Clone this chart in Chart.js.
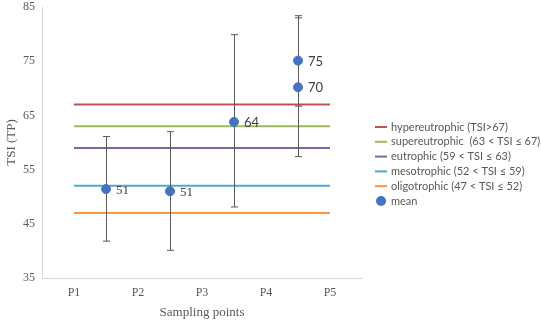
<!DOCTYPE html>
<html>
<head>
<meta charset="utf-8">
<script src="https://cdn.jsdelivr.net/npm/chart.js@4/dist/chart.umd.min.js"></script>
<style>
  html, body { margin: 0; padding: 0; background: #fff; }
  #wrap { width: 541px; height: 324px; position: relative; }
</style>
</head>
<body>
<div id="wrap"><canvas id="c" width="541" height="324"></canvas></div>
<script>
// --- data ---
const categories = ["P1", "P2", "P3", "P4", "P5"];
const yTicks = [35, 45, 55, 65, 75, 85];

const classNames = [
  "hypereutrophic (TSI>67)",
  "supereutrophic  (63 < TSI \u2264 67)",
  "eutrophic (59 < TSI \u2264 63)",
  "mesotrophic (52 < TSI \u2264 59)",
  "oligotrophic (47 < TSI \u2264 52)"
];
const classLevels = [67, 63, 59, 52, 47];
const classColors = ["#C0504D", "#9BBB59", "#8064A2", "#4BACC6", "#F79646"];

const meanX = [1.5, 2.5, 3.5, 4.5, 4.5];
const meanY = [51.4, 51.0, 63.8, 75.1, 70.2];
const errLow = [41.8, 40.1, 48.1, 66.7, 57.4];
const errHigh = [61.1, 62.0, 79.9, 83.4, 83.0];
const labelSerif = [true, true, false, false, false];

const GRAY = "#595959";
const SERIF = "'Liberation Serif', 'Times New Roman', serif";
const SANS = "Lato, 'Noto Sans', sans-serif";

// --- datasets ---
const datasets = classNames.map((name, i) => ({
  type: "line",
  label: name,
  data: [{ x: 1, y: classLevels[i] }, { x: 5, y: classLevels[i] }],
  borderColor: classColors[i],
  borderWidth: 2,
  pointRadius: 0,
  order: 1
}));
datasets.push({
  type: "scatter",
  label: "mean",
  data: meanX.map((x, i) => ({ x, y: meanY[i] })),
  backgroundColor: "#4472C4",
  borderColor: "#4472C4",
  pointRadius: 4.5,
  order: 0
});
const MEAN = datasets.length - 1;

// error bars under the mean markers
const errorBars = {
  id: "errorBars",
  beforeDatasetDraw(chart, args) {
    if (args.index !== MEAN) return;
    const { ctx, scales: { x, y } } = chart;
    ctx.save();
    ctx.strokeStyle = GRAY;
    ctx.lineWidth = 1;
    meanX.forEach((v, i) => {
      const px = Math.round(x.getPixelForValue(v)) + 0.5;
      const y1 = y.getPixelForValue(errHigh[i]);
      const y2 = y.getPixelForValue(errLow[i]);
      ctx.beginPath();
      ctx.moveTo(px, y1); ctx.lineTo(px, y2);
      ctx.moveTo(px - 3.5, y1); ctx.lineTo(px + 3.5, y1);
      ctx.moveTo(px - 3.5, y2); ctx.lineTo(px + 3.5, y2);
      ctx.stroke();
    });
    ctx.restore();
  }
};

// value labels and legend
const extras = {
  id: "extras",
  afterDraw(chart) {
    const { ctx, scales: { x, y } } = chart;
    ctx.save();
    ctx.fillStyle = "#404040";
    ctx.textBaseline = "middle";
    ctx.textAlign = "left";
    meanX.forEach((v, i) => {
      ctx.font = "13px " + (labelSerif[i] ? SERIF : SANS);
      ctx.fillText(String(Math.round(meanY[i])), x.getPixelForValue(v) + 10, y.getPixelForValue(meanY[i]) + 1);
    });

    // legend
    const lx = 375, ly = 127, step = 14.8;
    ctx.font = "11px " + SANS;
    ctx.fillStyle = GRAY;
    classNames.forEach((name, i) => {
      const yy = ly + i * step;
      ctx.strokeStyle = classColors[i];
      ctx.lineWidth = 2;
      ctx.beginPath();
      ctx.moveTo(lx, yy); ctx.lineTo(lx + 12, yy);
      ctx.stroke();
      ctx.fillText(name, lx + 16, yy);
    });
    const my = ly + classNames.length * step;
    ctx.fillStyle = "#4472C4";
    ctx.beginPath();
    ctx.arc(lx + 6, my, 5, 0, Math.PI * 2);
    ctx.fill();
    ctx.fillStyle = GRAY;
    ctx.fillText("mean", lx + 16, my);
    ctx.restore();
  }
};

new Chart(document.getElementById("c"), {
  data: { datasets },
  options: {
    responsive: false,
    animation: false,
    layout: { padding: { left: 0, right: 179, top: 7, bottom: 0 } },
    plugins: { legend: { display: false }, tooltip: { enabled: false } },
    scales: {
      x: {
        type: "linear",
        min: 0.5,
        max: 5.5,
        afterBuildTicks: (s) => { s.ticks = categories.map((_, i) => ({ value: i + 1 })); },
        afterFit: (s) => { s.height = 46; s.paddingLeft = 0; s.paddingRight = 0; },
        ticks: {
          callback: (v) => categories[Math.round(v) - 1],
          color: GRAY,
          font: { family: SERIF, size: 12 },
          padding: 8,
          maxRotation: 0
        },
        grid: { display: false, drawTicks: false },
        border: { color: "#D9D9D9", width: 1 },
        title: { display: true, text: "Sampling points", color: GRAY, font: { family: SERIF, size: 13 }, padding: { top: 2, bottom: 4 } }
      },
      y: {
        min: 35,
        max: 85,
        afterBuildTicks: (s) => { s.ticks = yTicks.map(v => ({ value: v })); },
        afterFit: (s) => { s.width = 42; s.paddingTop = 0; s.paddingBottom = 0; },
        ticks: { color: GRAY, font: { family: SERIF, size: 12 }, padding: 7 },
        grid: { display: false, drawTicks: false },
        border: { color: "#D9D9D9", width: 1 },
        title: { display: true, text: "TSI (TP)", color: GRAY, font: { family: SERIF, size: 13 }, padding: { top: 4, bottom: 4 } }
      }
    }
  },
  plugins: [errorBars, extras]
});
</script>
</body>
</html>
